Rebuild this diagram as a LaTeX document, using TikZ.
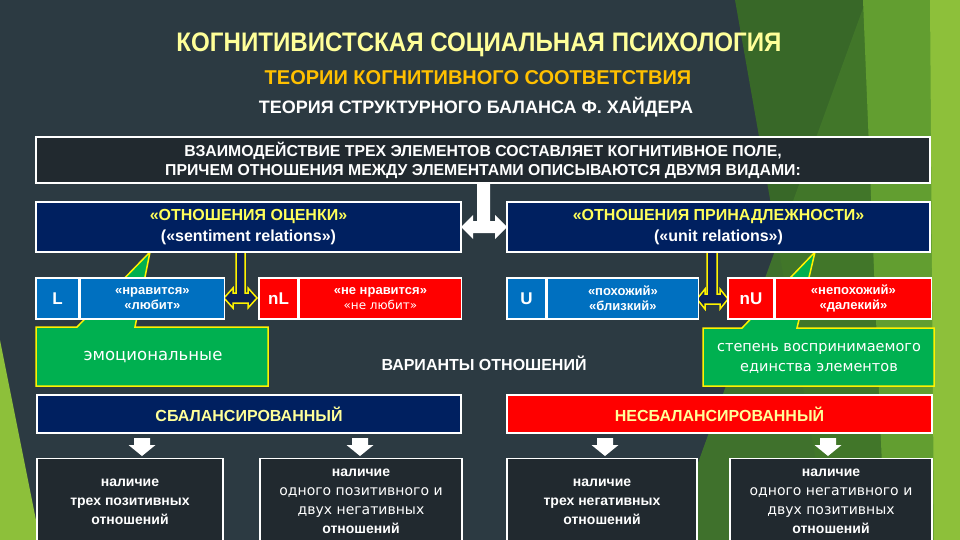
\documentclass[tikz,border=0pt]{standalone}
\usepackage{fontspec}
\setmainfont{Liberation Sans}
\newfontfamily\titlefont[FakeStretch=0.9]{Liberation Sans}
\newfontfamily\widefont{DejaVu Sans}

\definecolor{slide}{RGB}{44,58,66}
\definecolor{darkbox}{RGB}{33,41,47}
\definecolor{navy}{RGB}{0,32,96}
\definecolor{blueb}{RGB}{0,112,192}
\definecolor{redb}{RGB}{255,0,0}
\definecolor{greenb}{RGB}{0,176,80}
\definecolor{paleyellow}{RGB}{255,255,153}
\definecolor{lemon}{RGB}{255,255,90}
\definecolor{gold}{RGB}{255,192,0}
\definecolor{arrownavy}{RGB}{14,32,84}
\definecolor{leaf1}{RGB}{56,104,40}
\definecolor{leaf2}{RGB}{66,120,42}
\definecolor{leaf3}{RGB}{98,158,48}
\definecolor{leaf4}{RGB}{141,192,58}

\tikzset{
  box/.style={draw=white, line width=1.4pt, inner sep=0pt, align=center, text=white},
  callout/.style={fill=greenb, draw=yellow, line width=1.5pt, line join=miter},
  linkarrow/.style={fill=arrownavy, draw=yellow, line width=1.5pt},
  cellfont/.style={font=\bfseries\fontsize{13}{15}\selectfont},
}

\begin{document}
\begin{tikzpicture}[x=1pt,y=-1pt]
    \fill[slide] (0,0) rectangle (960,540);
    \useasboundingbox (0,0) rectangle (960,540);
    \clip (0,0) rectangle (960,540);

    % background leaves
    \fill[leaf1] (735,0) -- (960,0) -- (960,540) -- (830,540) -- cycle;
    \fill[leaf2, opacity=0.9] (866,0) -- (960,0) -- (960,540) -- (670,540) -- cycle;
    \fill[leaf3] (863,0) -- (960,0) -- (960,540) -- (885,540) -- cycle;
    \fill[leaf4] (930,0) -- (960,0) -- (960,540) -- (934,540) -- cycle;
    \fill[leaf4] (0,340) -- (40,540) -- (0,540) -- cycle;

    % headings
    \node[font=\titlefont\bfseries\fontsize{26.8}{30}\selectfont, text=paleyellow] (title) at (479,45) {КОГНИТИВИСТСКАЯ СОЦИАЛЬНАЯ ПСИХОЛОГИЯ};
    \node[font=\bfseries\fontsize{20}{22}\selectfont, text=gold] (theories) at (478,78) {ТЕОРИИ КОГНИТИВНОГО СООТВЕТСТВИЯ};
    \node[font=\bfseries\fontsize{18}{22}\selectfont, text=white] (heider) at (476,107) {ТЕОРИЯ СТРУКТУРНОГО БАЛАНСА Ф. ХАЙДЕРА};

    \node[box, fill=darkbox, minimum width=894, minimum height=46, font=\bfseries\fontsize{15.8}{19}\selectfont] (field) at (483,160)
        {ВЗАИМОДЕЙСТВИЕ ТРЕХ ЭЛЕМЕНТОВ СОСТАВЛЯЕТ КОГНИТИВНОЕ ПОЛЕ,\\ПРИЧЕМ ОТНОШЕНИЯ МЕЖДУ ЭЛЕМЕНТАМИ ОПИСЫВАЮТСЯ ДВУМЯ ВИДАМИ:};

    % callouts
    \draw[callout] (36,327) -- (77,327) -- (150,252) -- (135,327) -- (268,327) -- (268,386) -- (36,386) -- cycle;
    \node[font=\widefont\fontsize{16.5}{20}\selectfont, text=white] (emotional) at (153,357) {эмоциональные};
    \draw[callout] (703,328) -- (742,328) -- (815,252) -- (797,328) -- (934,328) -- (934,386) -- (703,386) -- cycle;
    \node[font=\widefont\fontsize{14.5}{20}\selectfont, text=white, align=center] (degree) at (819,358) {степень воспринимаемого\\единства элементов};

    % double arrows between pairs
    \draw[linkarrow] (236,252) -- (236,293) -- (233,293) -- (233,288) -- (224,298) -- (233,308) -- (233,303) -- (248,303) -- (248,308) -- (257,298) -- (248,288) -- (248,293) -- (245,293) -- (245,252) -- cycle;
    \draw[linkarrow] (707,252) -- (707,294) -- (705,294) -- (705,289) -- (697,299) -- (705,309) -- (705,304) -- (720,304) -- (720,309) -- (728,299) -- (720,289) -- (720,294) -- (717,294) -- (717,252) -- cycle;

    % two kinds of relations
    \node[box, fill=navy, minimum width=425, minimum height=50, font=\bfseries\fontsize{16}{21}\selectfont] (sentiment) at (248.5,227)
        {\textcolor{lemon}{«ОТНОШЕНИЯ ОЦЕНКИ»}\\(«sentiment relations»)};
    \node[box, fill=navy, minimum width=423, minimum height=50, font=\bfseries\fontsize{16}{21}\selectfont] (unit) at (718.5,227)
        {\textcolor{lemon}{«ОТНОШЕНИЯ ПРИНАДЛЕЖНОСТИ»}\\(«unit relations»)};
    \fill[white] (477,183) -- (477,221) -- (473,221) -- (473,215) -- (461,227) -- (473,239) -- (473,233) -- (495,233) -- (495,239) -- (507,227) -- (495,215) -- (495,221) -- (490,221) -- (490,183) -- cycle;

    % L / nL / U / nU
    \node[box, fill=blueb, minimum width=43, minimum height=41, font=\bfseries\fontsize{17}{20}\selectfont] (like) at (57.5,298.5) {L};
    \node[box, fill=blueb, minimum width=144, minimum height=41, cellfont, anchor=west] (likeText) at (like.east) {«нравится»\\«любит»};
    \node[box, fill=redb, minimum width=39, minimum height=41, font=\bfseries\fontsize{17}{20}\selectfont] (notLike) at (278.5,298.5) {nL};
    \node[box, fill=redb, minimum width=162, minimum height=41, cellfont, anchor=west] (notLikeText) at (notLike.east) {«не нравится»\\{\widefont\mdseries\fontsize{12}{15}\selectfont «не любит»}};
    \node[box, fill=blueb, minimum width=39, minimum height=41, font=\bfseries\fontsize{17}{20}\selectfont] (same) at (526.5,298.5) {U};
    \node[box, fill=blueb, minimum width=151, minimum height=41, cellfont, anchor=west] (sameText) at (same.east) {«похожий»\\«близкий»};
    \node[box, fill=redb, minimum width=46, minimum height=41, font=\bfseries\fontsize{17}{20}\selectfont] (notSame) at (751,298.5) {nU};
    \node[box, fill=redb, minimum width=156, minimum height=41, cellfont, anchor=west] (notSameText) at (notSame.east) {«непохожий»\\«далекий»};

    \node[font=\bfseries\fontsize{16}{19}\selectfont, text=white] (variants) at (484,363) {ВАРИАНТЫ ОТНОШЕНИЙ};

    % balanced / unbalanced
    \node[box, fill=navy, minimum width=424, minimum height=38, font=\bfseries\fontsize{16}{19}\selectfont, text=paleyellow] (balanced) at (249,414) {СБАЛАНСИРОВАННЫЙ};
    \node[box, fill=redb, minimum width=425, minimum height=38, font=\bfseries\fontsize{16}{19}\selectfont, text=paleyellow] (unbalanced) at (719.5,414) {НЕСБАЛАНСИРОВАННЫЙ};

    \foreach \ax in {142,360,605,828}
        \fill[white] (\ax-8,438) -- (\ax+8,438) -- (\ax+8,445) -- (\ax+13.5,445) -- (\ax,456) -- (\ax-13.5,445) -- (\ax-8,445) -- cycle;

    \node[box, fill=darkbox, minimum width=186, minimum height=86, anchor=north, font=\bfseries\fontsize{14}{19}\selectfont] (balThree) at (130,458)
        {наличие\\трех позитивных\\отношений};
    \node[box, fill=darkbox, minimum width=202, minimum height=86, anchor=north, font=\bfseries\fontsize{14}{19}\selectfont] (balOne) at (361,458)
        {наличие\\{\widefont\mdseries одного позитивного и}\\{\widefont\mdseries двух негативных}\\отношений};
    \node[box, fill=darkbox, minimum width=190, minimum height=86, anchor=north, font=\bfseries\fontsize{14}{19}\selectfont] (unbThree) at (602,458)
        {наличие\\трех негативных\\отношений};
    \node[box, fill=darkbox, minimum width=202, minimum height=86, anchor=north, font=\bfseries\fontsize{14}{19}\selectfont] (unbOne) at (831,458)
        {наличие\\{\widefont\mdseries одного негативного и}\\{\widefont\mdseries двух позитивных}\\отношений};
\end{tikzpicture}
\end{document}
